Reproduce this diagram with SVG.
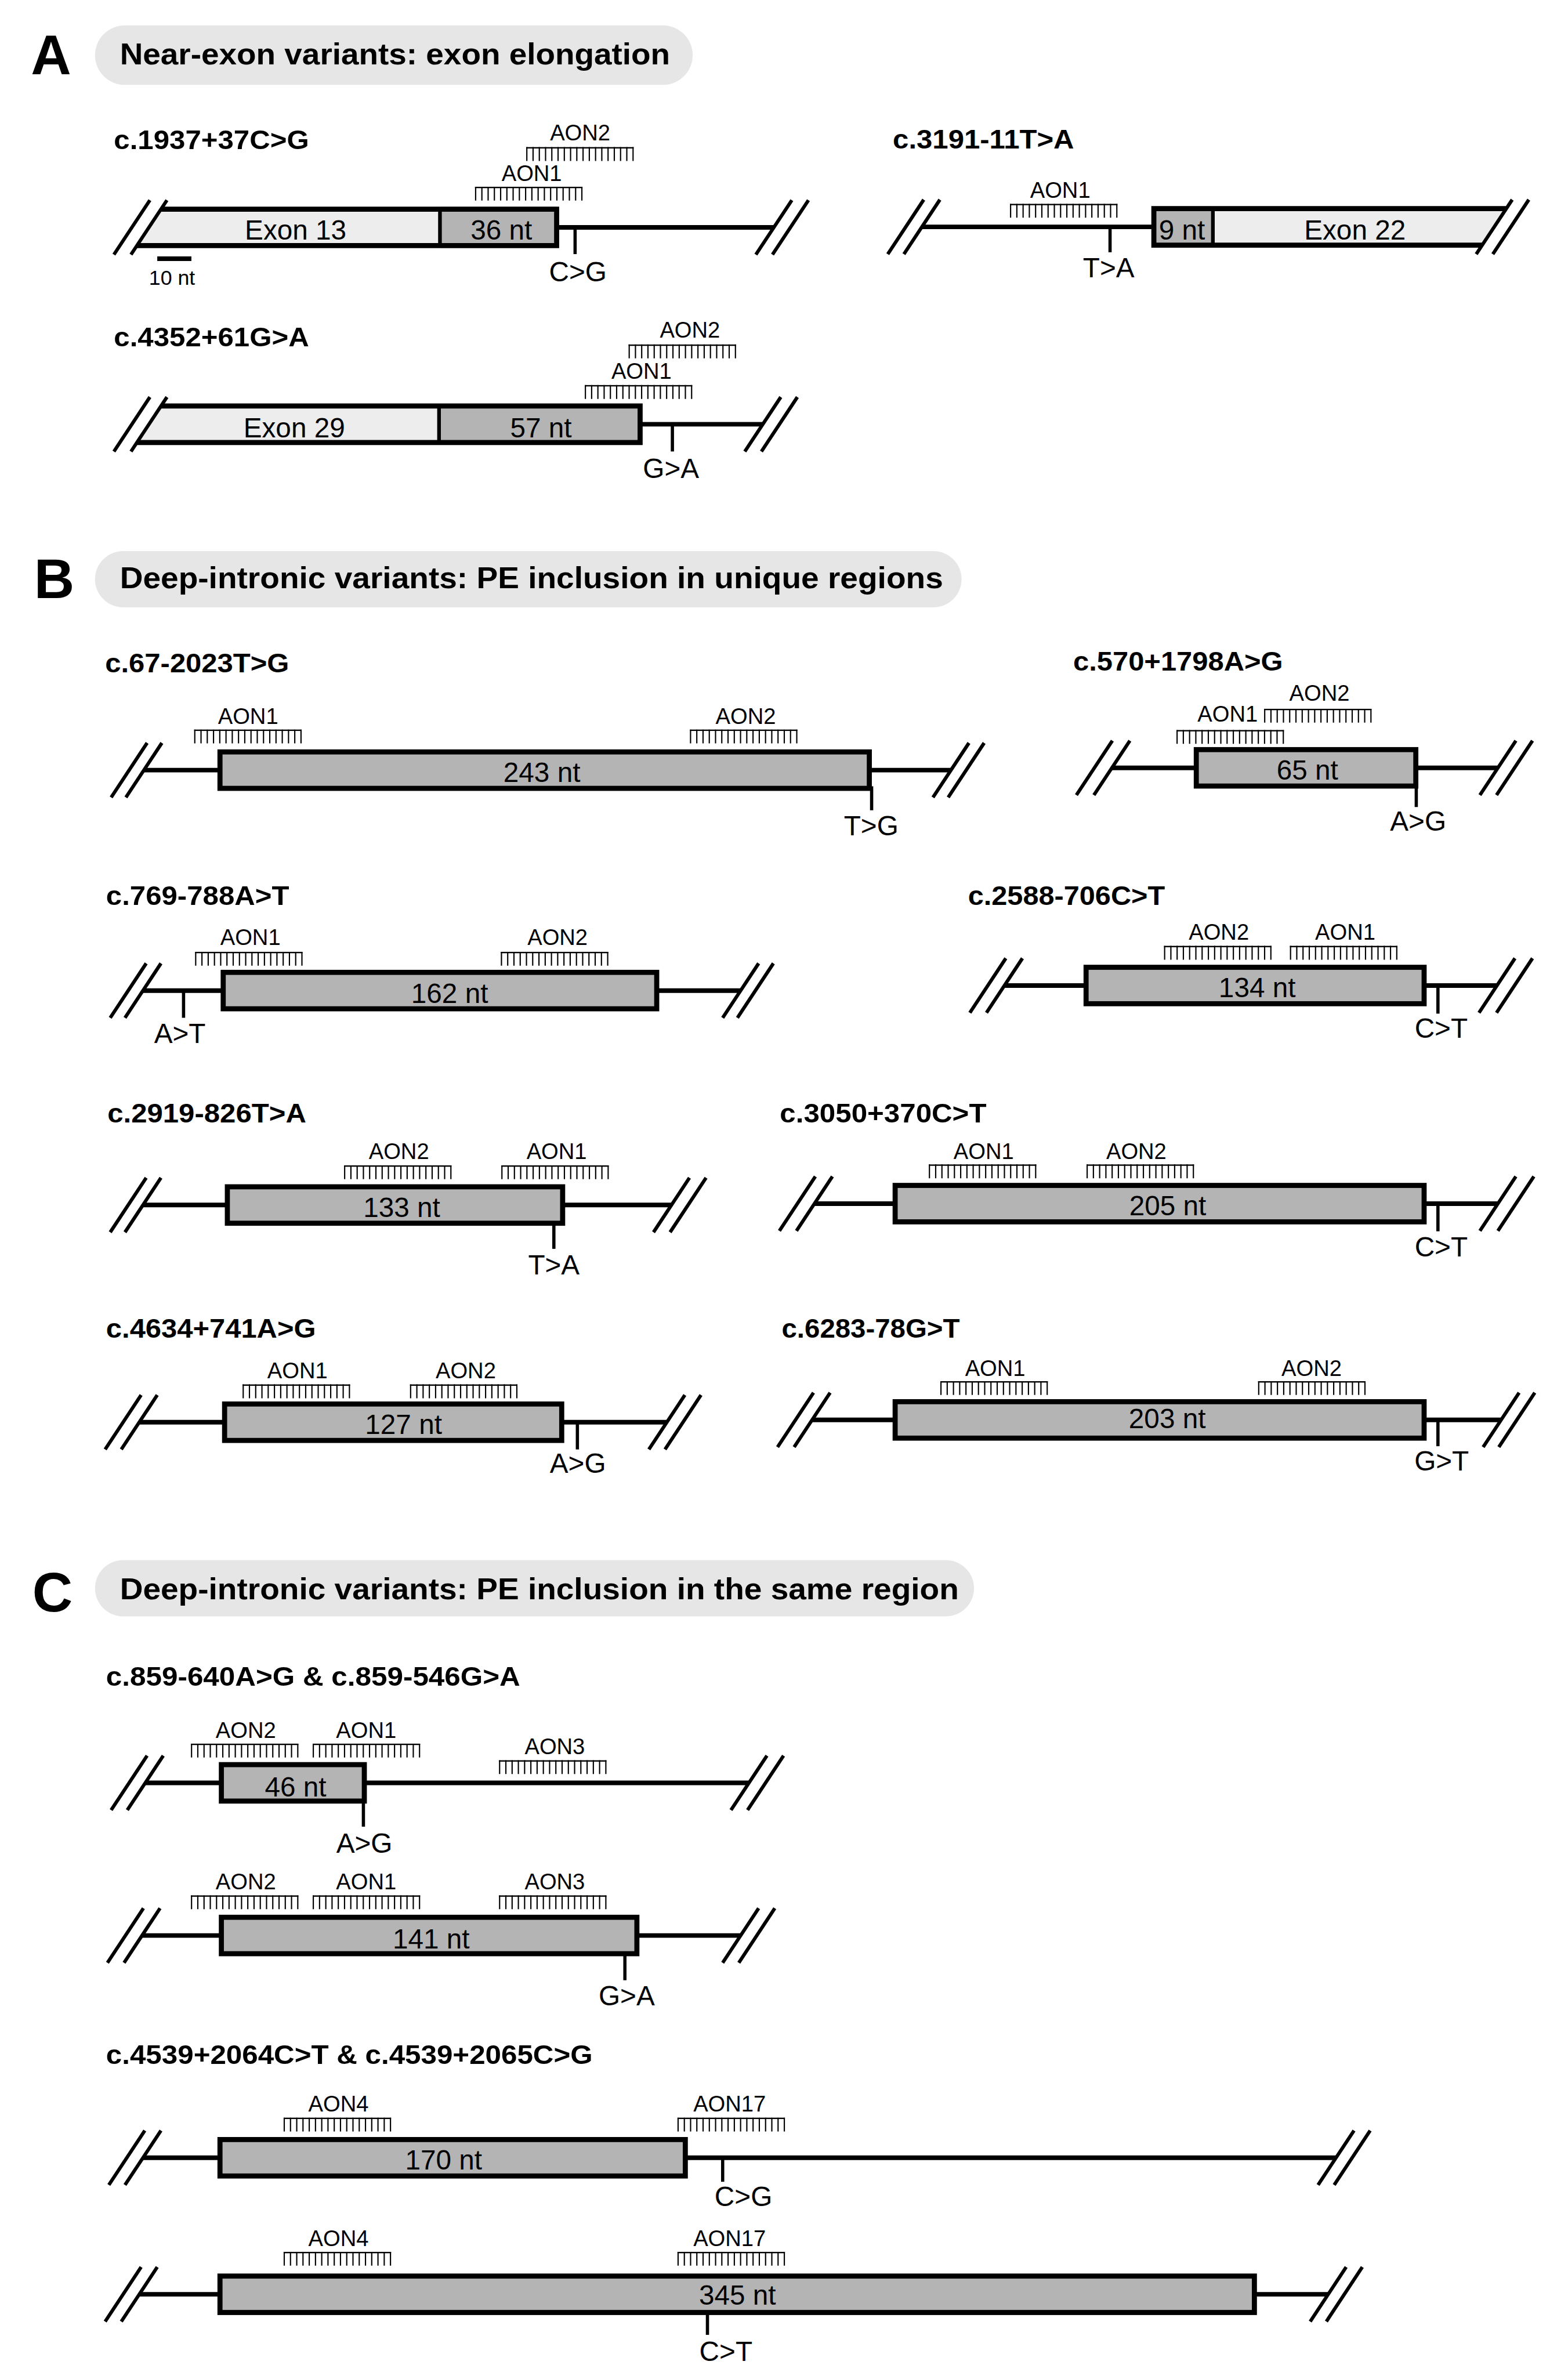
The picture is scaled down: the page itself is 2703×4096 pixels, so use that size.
<svg xmlns="http://www.w3.org/2000/svg" xmlns:xlink="http://www.w3.org/1999/xlink" width="2703" height="4096" viewBox="0 0 2703 4096">
<style>
text{font-family:'Liberation Sans',Arial,Helvetica,sans-serif;fill:#000}
.panel{font-weight:bold;font-size:121px}
.hdr{font-weight:bold;font-size:65px}
.sub{font-weight:bold;font-size:59px}
.lbl{font-size:60px;text-anchor:middle}
.aon{font-size:48px;text-anchor:middle}
.sc{font-size:45px;text-anchor:middle}
.pill{fill:#e6e6e6}
.pe{fill:#b4b4b4;stroke:#000;stroke-width:11}
.pefill{fill:#b4b4b4}
.exon{fill:#ededed}
.border{fill:none;stroke:#000;stroke-width:11}
.intron{stroke:#000;stroke-width:10}
.brk{stroke:#000;stroke-width:7.5;fill:none}
.mut{stroke:#000;stroke-width:7}
</style>
<defs>
<g id="comb">
<rect x="0" y="0" width="233" height="3" fill="#000"/>
<path d="M1.35 0v30M14.9 0v30M28.45 0v30M42 0v30M55.55 0v30M69.1 0v30M82.65 0v30M96.2 0v30M109.75 0v30M123.3 0v30M136.85 0v30M150.4 0v30M163.95 0v30M177.5 0v30M191.05 0v30M204.6 0v30M218.15 0v30M231.7 0v30" stroke="#000" stroke-width="2.7"/>
</g>
</defs>
<g transform="scale(0.795)">
<rect x="0" y="0" width="3399" height="5150" fill="#fff"/>

<!-- Panel A -->
<g id="panelA-header">
<text class="panel" x="67" y="161">A</text>
<rect class="pill" x="206" y="55" width="1296" height="129" rx="64.5"/>
<text class="hdr" x="260" y="139" textLength="1193" lengthAdjust="spacingAndGlyphs">Near-exon variants: exon elongation</text>
</g>

<g id="c1937">
<text class="sub" x="247" y="323" textLength="423" lengthAdjust="spacingAndGlyphs">c.1937+37C&gt;G</text>
<line class="intron" x1="1207" y1="493" x2="1678" y2="493"/>
<polygon class="exon" points="352,448.5 954,448.5 954,537.5 294,537.5"/>
<rect class="pefill" x="954" y="448.5" width="253" height="89"/>
<path class="border" d="M349 453.5H1207V532.5H297"/>
<line x1="954" y1="453" x2="954" y2="533" stroke="#000" stroke-width="8"/>
<path class="brk" d="M247 552L325 434M284 552L362 434M1639 552L1717 434M1675 552L1753 434"/>
<line class="mut" x1="1247" y1="493" x2="1247" y2="551"/>
<text class="lbl" x="1253" y="610">C&gt;G</text>
<text class="lbl" x="641" y="520">Exon 13</text>
<text class="lbl" x="1087" y="520">36 nt</text>
<use xlink:href="#comb" x="1030" y="405"/>
<text class="aon" x="1153" y="393">AON1</text>
<use xlink:href="#comb" x="1141" y="319"/>
<text class="aon" x="1258" y="305">AON2</text>
<rect x="341" y="556" width="74" height="10" fill="#000"/>
<text class="sc" x="373" y="617">10 nt</text>
</g>

<g id="c3191">
<text class="sub" x="1936" y="322" textLength="393" lengthAdjust="spacingAndGlyphs">c.3191-11T&gt;A</text>
<line class="intron" x1="1999" y1="492" x2="2502" y2="492"/>
<rect class="pefill" x="2497" y="447.5" width="133" height="89"/>
<polygon class="exon" points="2630,447.5 3269,447.5 3211,536.5 2630,536.5"/>
<path class="border" d="M3266 452.5H2502V531.5H3214"/>
<line x1="2630" y1="452" x2="2630" y2="532" stroke="#000" stroke-width="8"/>
<path class="brk" d="M1925 551L2003 433M1960 551L2038 433M3201 551L3279 433M3237 551L3315 433"/>
<line class="mut" x1="2407" y1="492" x2="2407" y2="547"/>
<text class="lbl" x="2404" y="601">T&gt;A</text>
<text class="lbl" x="2563" y="520">9 nt</text>
<text class="lbl" x="2938" y="520">Exon 22</text>
<use xlink:href="#comb" x="2190" y="442"/>
<text class="aon" x="2299" y="429">AON1</text>
</g>

<g id="c4352">
<text class="sub" x="247" y="751" textLength="423" lengthAdjust="spacingAndGlyphs">c.4352+61G&gt;A</text>
<line class="intron" x1="1388" y1="920" x2="1654" y2="920"/>
<polygon class="exon" points="352,875.5 952,875.5 952,964.5 294,964.5"/>
<rect class="pefill" x="952" y="875.5" width="436" height="89"/>
<path class="border" d="M349 880.5H1388V959.5H297"/>
<line x1="952" y1="880" x2="952" y2="960" stroke="#000" stroke-width="8"/>
<path class="brk" d="M247 979L325 861M284 979L362 861M1615 979L1693 861M1651 979L1729 861"/>
<line class="mut" x1="1458" y1="920" x2="1458" y2="979"/>
<text class="lbl" x="1455" y="1036">G&gt;A</text>
<text class="lbl" x="638" y="948">Exon 29</text>
<text class="lbl" x="1173" y="948">57 nt</text>
<use xlink:href="#comb" x="1268" y="835"/>
<text class="aon" x="1391" y="821">AON1</text>
<use xlink:href="#comb" x="1363" y="747"/>
<text class="aon" x="1496" y="732">AON2</text>
</g>

<!-- Panel B -->
<g id="panelB-header">
<text class="panel" x="74" y="1297">B</text>
<rect class="pill" x="206" y="1195" width="1879" height="122" rx="61"/>
<text class="hdr" x="260" y="1276" textLength="1785" lengthAdjust="spacingAndGlyphs">Deep-intronic variants: PE inclusion in unique regions</text>
</g>

<g id="c67">
<text class="sub" x="228" y="1458" textLength="399" lengthAdjust="spacingAndGlyphs">c.67-2023T&gt;G</text>
<line class="intron" x1="312" y1="1670" x2="2062" y2="1670"/>
<rect class="pe" x="477" y="1630.5" width="1408" height="79"/>
<path class="brk" d="M241 1729L319 1611M273 1729L351 1611M2023 1729L2101 1611M2056 1729L2134 1611"/>
<line class="mut" x1="1890" y1="1705" x2="1890" y2="1757"/>
<text class="lbl" x="1889" y="1811">T&gt;G</text>
<text class="lbl" x="1175" y="1696">243 nt</text>
<use xlink:href="#comb" x="421" y="1582"/>
<text class="aon" x="538" y="1570">AON1</text>
<use xlink:href="#comb" x="1496" y="1582"/>
<text class="aon" x="1617" y="1570">AON2</text>
</g>

<g id="c570">
<text class="sub" x="2327" y="1454" textLength="455" lengthAdjust="spacingAndGlyphs">c.570+1798A&gt;G</text>
<line class="intron" x1="2411" y1="1665" x2="3248" y2="1665"/>
<rect class="pe" x="2594" y="1625.5" width="476" height="79"/>
<path class="brk" d="M2334 1724L2412 1606M2372 1724L2450 1606M3209 1724L3287 1606M3245 1724L3323 1606"/>
<line class="mut" x1="3071" y1="1700" x2="3071" y2="1750"/>
<text class="lbl" x="3075" y="1801">A&gt;G</text>
<text class="lbl" x="2835" y="1691">65 nt</text>
<use xlink:href="#comb" x="2551" y="1583"/>
<text class="aon" x="2662" y="1565">AON1</text>
<use xlink:href="#comb" x="2741" y="1537"/>
<text class="aon" x="2861" y="1520">AON2</text>
</g>

<g id="c769">
<text class="sub" x="230" y="1962" textLength="397" lengthAdjust="spacingAndGlyphs">c.769-788A&gt;T</text>
<line class="intron" x1="310" y1="2148" x2="1606" y2="2148"/>
<rect class="pe" x="484" y="2108.5" width="940" height="79"/>
<path class="brk" d="M239 2207L317 2089M271 2207L349 2089M1567 2207L1645 2089M1599 2207L1677 2089"/>
<line class="mut" x1="398" y1="2148" x2="398" y2="2207"/>
<text class="lbl" x="390" y="2262">A&gt;T</text>
<text class="lbl" x="975" y="2175">162 nt</text>
<use xlink:href="#comb" x="423" y="2064"/>
<text class="aon" x="543" y="2049">AON1</text>
<use xlink:href="#comb" x="1086" y="2064"/>
<text class="aon" x="1209" y="2049">AON2</text>
</g>

<g id="c2588">
<text class="sub" x="2099" y="1962" textLength="427" lengthAdjust="spacingAndGlyphs">c.2588-706C&gt;T</text>
<line class="intron" x1="2178" y1="2137" x2="3246" y2="2137"/>
<rect class="pe" x="2355" y="2097.5" width="733" height="79"/>
<path class="brk" d="M2103 2196L2181 2078M2139 2196L2217 2078M3207 2196L3285 2078M3245 2196L3323 2078"/>
<line class="mut" x1="3118" y1="2137" x2="3118" y2="2198"/>
<text class="lbl" x="3125" y="2250">C&gt;T</text>
<text class="lbl" x="2726" y="2162">134 nt</text>
<use xlink:href="#comb" x="2524" y="2051"/>
<text class="aon" x="2643" y="2038">AON2</text>
<use xlink:href="#comb" x="2797" y="2051"/>
<text class="aon" x="2917" y="2038">AON1</text>
</g>

<g id="c2919">
<text class="sub" x="233" y="2434" textLength="431" lengthAdjust="spacingAndGlyphs">c.2919-826T&gt;A</text>
<line class="intron" x1="310" y1="2613" x2="1456" y2="2613"/>
<rect class="pe" x="493" y="2573.5" width="727" height="79"/>
<path class="brk" d="M239 2672L317 2554M271 2672L349 2554M1417 2672L1495 2554M1453 2672L1531 2554"/>
<line class="mut" x1="1201" y1="2652" x2="1201" y2="2708"/>
<text class="lbl" x="1201" y="2763">T&gt;A</text>
<text class="lbl" x="871" y="2639">133 nt</text>
<use xlink:href="#comb" x="746" y="2527"/>
<text class="aon" x="865" y="2513">AON2</text>
<use xlink:href="#comb" x="1087" y="2527"/>
<text class="aon" x="1207" y="2513">AON1</text>
</g>

<g id="c3050">
<text class="sub" x="1691" y="2434" textLength="448" lengthAdjust="spacingAndGlyphs">c.3050+370C&gt;T</text>
<line class="intron" x1="1766" y1="2610" x2="3248" y2="2610"/>
<rect class="pe" x="1941" y="2570.5" width="1147" height="79"/>
<path class="brk" d="M1690 2669L1768 2551M1727 2669L1805 2551M3209 2669L3287 2551M3248 2669L3326 2551"/>
<line class="mut" x1="3118" y1="2610" x2="3118" y2="2670"/>
<text class="lbl" x="3125" y="2725">C&gt;T</text>
<text class="lbl" x="2532" y="2635">205 nt</text>
<use xlink:href="#comb" x="2014" y="2525"/>
<text class="aon" x="2133" y="2513">AON1</text>
<use xlink:href="#comb" x="2356" y="2525"/>
<text class="aon" x="2464" y="2513">AON2</text>
</g>

<g id="c4634">
<text class="sub" x="230" y="2901" textLength="455" lengthAdjust="spacingAndGlyphs">c.4634+741A&gt;G</text>
<line class="intron" x1="302" y1="3084" x2="1446" y2="3084"/>
<rect class="pe" x="487" y="3044.5" width="731" height="79"/>
<path class="brk" d="M228 3143L306 3025M263 3143L341 3025M1407 3143L1485 3025M1442 3143L1520 3025"/>
<line class="mut" x1="1252" y1="3084" x2="1252" y2="3143"/>
<text class="lbl" x="1253" y="3194">A&gt;G</text>
<text class="lbl" x="875" y="3110">127 nt</text>
<use xlink:href="#comb" x="526" y="3002"/>
<text class="aon" x="645" y="2989">AON1</text>
<use xlink:href="#comb" x="889" y="3002"/>
<text class="aon" x="1010" y="2989">AON2</text>
</g>

<g id="c6283">
<text class="sub" x="1695" y="2901" textLength="386" lengthAdjust="spacingAndGlyphs">c.6283-78G&gt;T</text>
<line class="intron" x1="1761" y1="3079" x2="3255" y2="3079"/>
<rect class="pe" x="1941" y="3039.5" width="1147" height="79"/>
<path class="brk" d="M1686 3138L1764 3020M1722 3138L1800 3020M3216 3138L3294 3020M3250 3138L3328 3020"/>
<line class="mut" x1="3118" y1="3079" x2="3118" y2="3136"/>
<text class="lbl" x="3126" y="3189">G&gt;T</text>
<text class="lbl" x="2531" y="3097">203 nt</text>
<use xlink:href="#comb" x="2039" y="2995"/>
<text class="aon" x="2158" y="2984">AON1</text>
<use xlink:href="#comb" x="2728" y="2995"/>
<text class="aon" x="2844" y="2984">AON2</text>
</g>

<!-- Panel C -->
<g id="panelC-header">
<text class="panel" x="70" y="3494">C</text>
<rect class="pill" x="206" y="3383" width="1906" height="122" rx="61"/>
<text class="hdr" x="260" y="3468" textLength="1819" lengthAdjust="spacingAndGlyphs">Deep-intronic variants: PE inclusion in the same region</text>
</g>

<g id="c859">
<text class="sub" x="230" y="3655" textLength="898" lengthAdjust="spacingAndGlyphs">c.859-640A&gt;G &amp; c.859-546G&gt;A</text>
<g id="c859-a">
<line class="intron" x1="315" y1="3866" x2="1624" y2="3866"/>
<rect class="pe" x="480" y="3826.5" width="310" height="79"/>
<path class="brk" d="M241 3925L319 3807M276 3925L354 3807M1585 3925L1663 3807M1621 3925L1699 3807"/>
<line class="mut" x1="788" y1="3905" x2="788" y2="3961"/>
<text class="lbl" x="790" y="4017">A&gt;G</text>
<text class="lbl" x="641" y="3895">46 nt</text>
<use xlink:href="#comb" x="414" y="3781"/>
<text class="aon" x="533" y="3768">AON2</text>
<use xlink:href="#comb" x="678" y="3781"/>
<text class="aon" x="794" y="3768">AON1</text>
<use xlink:href="#comb" x="1082" y="3817"/>
<text class="aon" x="1203" y="3804">AON3</text>
</g>
<g id="c859-b">
<line class="intron" x1="308" y1="4197" x2="1606" y2="4197"/>
<rect class="pe" x="480" y="4157.5" width="901" height="79"/>
<path class="brk" d="M233 4256L311 4138M269 4256L347 4138M1567 4256L1645 4138M1602 4256L1680 4138"/>
<line class="mut" x1="1355" y1="4236" x2="1355" y2="4294"/>
<text class="lbl" x="1359" y="4349">G&gt;A</text>
<text class="lbl" x="935" y="4225">141 nt</text>
<use xlink:href="#comb" x="414" y="4110"/>
<text class="aon" x="533" y="4097">AON2</text>
<use xlink:href="#comb" x="678" y="4110"/>
<text class="aon" x="794" y="4097">AON1</text>
<use xlink:href="#comb" x="1082" y="4110"/>
<text class="aon" x="1203" y="4097">AON3</text>
</g>
</g>

<g id="c4539">
<text class="sub" x="230" y="4476" textLength="1055" lengthAdjust="spacingAndGlyphs">c.4539+2064C&gt;T &amp; c.4539+2065C&gt;G</text>
<g id="c4539-a">
<line class="intron" x1="310" y1="4679" x2="2897" y2="4679"/>
<rect class="pe" x="477" y="4639.5" width="1009" height="79"/>
<path class="brk" d="M236 4738L314 4620M271 4738L349 4620M2858 4738L2936 4620M2893 4738L2971 4620"/>
<line class="mut" x1="1567" y1="4679" x2="1567" y2="4731"/>
<text class="lbl" x="1612" y="4784">C&gt;G</text>
<text class="lbl" x="962" y="4704">170 nt</text>
<use xlink:href="#comb" x="615" y="4592"/>
<text class="aon" x="734" y="4579">AON4</text>
<use xlink:href="#comb" x="1469" y="4592"/>
<text class="aon" x="1582" y="4579">AON17</text>
</g>
<g id="c4539-b">
<line class="intron" x1="302" y1="4975" x2="2880" y2="4975"/>
<rect class="pe" x="477" y="4935.5" width="2243" height="79"/>
<path class="brk" d="M228 5034L306 4916M263 5034L341 4916M2841 5034L2919 4916M2876 5034L2954 4916"/>
<line class="mut" x1="1534" y1="5015" x2="1534" y2="5063"/>
<text class="lbl" x="1574" y="5120">C&gt;T</text>
<text class="lbl" x="1599" y="4997">345 nt</text>
<use xlink:href="#comb" x="615" y="4883"/>
<text class="aon" x="734" y="4871">AON4</text>
<use xlink:href="#comb" x="1469" y="4883"/>
<text class="aon" x="1582" y="4871">AON17</text>
</g>
</g>
</g>
</svg>
